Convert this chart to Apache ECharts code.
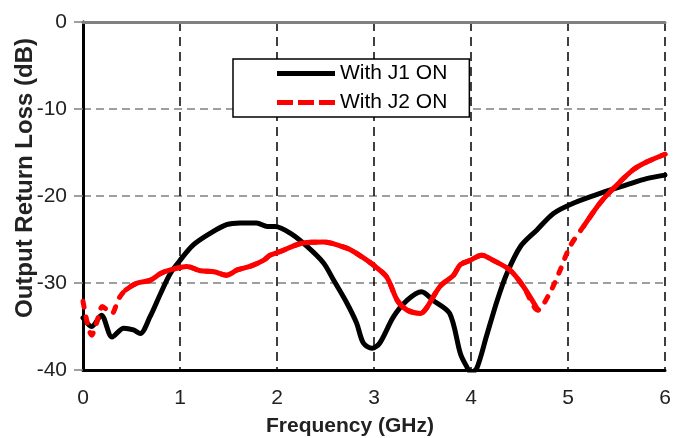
<!DOCTYPE html>
<html><head><meta charset="utf-8">
<script src="https://cdn.jsdelivr.net/npm/echarts@6/dist/echarts.min.js"></script>
<style>html,body{margin:0;padding:0;background:#fff}#c{width:687px;height:438px}</style>
</head><body><div id="c"></div>
<script>
const seriesNames = ['With J1 ON', 'With J2 ON'];
const xTicks = [0, 1, 2, 3, 4, 5, 6];
const yTicks = [-40, -30, -20, -10, 0];
const j1Freq = [0.00,0.09,0.19,0.30,0.42,0.52,0.59,0.69,0.80,0.90,1.00,1.14,1.31,1.48,1.62,1.79,1.90,1.98,2.14,2.31,2.48,2.58,2.72,2.82,2.89,2.98,3.06,3.20,3.34,3.49,3.61,3.78,3.89,3.95,4.00,4.06,4.16,4.27,4.37,4.51,4.68,4.85,5.06,5.33,5.61,5.81,6.00];
const j1Loss = [-34.0,-35.0,-33.7,-36.2,-35.2,-35.4,-35.8,-33.9,-31.2,-28.9,-27.4,-25.6,-24.3,-23.3,-23.1,-23.1,-23.5,-23.5,-24.3,-25.8,-27.7,-29.6,-32.3,-34.6,-36.9,-37.5,-36.9,-33.9,-32.0,-31.0,-32.0,-33.5,-38.1,-39.5,-40.3,-39.8,-36.1,-32.0,-28.9,-25.8,-23.9,-22.0,-20.8,-19.7,-18.7,-18.0,-17.6];
const j2Freq = [0.00,0.09,0.14,0.20,0.25,0.30,0.35,0.38,0.44,0.56,0.69,0.80,0.90,1.07,1.21,1.35,1.48,1.59,1.72,1.86,1.93,2.03,2.27,2.48,2.72,2.82,2.99,3.13,3.24,3.34,3.48,3.54,3.68,3.82,3.89,3.99,4.11,4.23,4.40,4.54,4.69,4.81,4.92,5.02,5.16,5.33,5.47,5.67,5.81,6.00];
const j2Loss = [-32.1,-36.0,-34.6,-32.7,-33.1,-33.5,-32.3,-31.6,-30.8,-30.0,-29.7,-28.9,-28.5,-28.1,-28.6,-28.7,-29.1,-28.5,-28.1,-27.4,-26.8,-26.4,-25.4,-25.3,-26.0,-26.6,-27.9,-29.3,-32.0,-33.1,-33.5,-32.9,-30.4,-29.1,-27.9,-27.4,-26.8,-27.4,-28.5,-30.4,-33.1,-31.2,-28.5,-25.8,-23.5,-20.8,-19.1,-17.0,-16.1,-15.2];

// frequency spans where the dense-point red trace renders as solid
const solidSpans = [[0.40, 3.15], [3.22, 4.72], [5.14, 6.01]];
const inSolid = f => solidSpans.some(s => f >= s[0] && f <= s[1]);

const j1Data = j1Freq.map((f, i) => [f, j1Loss[i]]);
const j2Data = j2Freq.map((f, i) => [f, j2Loss[i]]);
const j2Solid = j2Freq.map((f, i) => inSolid(f) ? [f, j2Loss[i]] : [f, null]);

const font = 'Liberation Sans, Arial, sans-serif';
const chart = echarts.init(document.getElementById('c'), null, {renderer: 'canvas'});
chart.setOption({
  animation: false,
  backgroundColor: '#fff',
  grid: {left: 83, right: 22, top: 22, bottom: 68, containLabel: false, outerBoundsMode: 'none'},
  legend: {
    data: [
      {name: seriesNames[0], icon: 'rect', itemStyle: {color: '#000'}},
      {name: seriesNames[1], icon: 'path://M0,0h16v5h-16z M21,0h16v5h-16z M42,0h16v5h-16z', itemStyle: {color: '#ff0000'}}
    ],
    orient: 'vertical',
    left: 233, top: 59,
    backgroundColor: '#fff',
    borderColor: '#000', borderWidth: 1.5,
    padding: [4, 22, 4, 44],
    itemWidth: 58, itemHeight: 5, itemGap: 8,
    textStyle: {fontFamily: font, fontSize: 21, color: '#000'}
  },
  xAxis: [{
    type: 'value', min: xTicks[0], max: xTicks[xTicks.length - 1], interval: 1,
    name: 'Frequency (GHz)', nameLocation: 'middle', nameGap: 46, nameMoveOverlap: false,
    nameTextStyle: {fontFamily: font, fontSize: 21, fontWeight: 'bold', color: '#222', padding: [0, 48, 0, 0]},
    axisLine: {show: true, onZero: false, lineStyle: {color: '#000', width: 3}},
    axisTick: {show: false},
    axisLabel: {fontFamily: font, fontSize: 21, color: '#222', margin: 18},
    splitLine: {show: true, lineStyle: {color: '#000', width: 1.5, type: [9, 6]}}
  }, {
    type: 'value', position: 'top', min: 0, max: 6,
    axisLine: {show: true, lineStyle: {color: '#808080', width: 3}},
    axisTick: {show: false}, axisLabel: {show: false}, splitLine: {show: false}
  }],
  yAxis: [{
    type: 'value', min: yTicks[0], max: yTicks[yTicks.length - 1], interval: 10,
    name: 'Output Return Loss (dB)', nameLocation: 'middle', nameGap: 46, nameMoveOverlap: false,
    nameTextStyle: {fontFamily: font, fontSize: 24, fontWeight: 'bold', color: '#222', padding: [0, 0, 0, 36]},
    axisLine: {show: true, onZero: false, lineStyle: {color: '#808080', width: 3}},
    axisTick: {show: true, length: 9, lineStyle: {color: '#808080', width: 1.5}},
    axisLabel: {fontFamily: font, fontSize: 21, color: '#222', margin: 16},
    splitLine: {show: true, lineStyle: {color: '#808080', width: 1.5, type: [8, 5]}}
  }, {
    type: 'value', position: 'right', min: -40, max: 0,
    axisLine: {show: true, lineStyle: {color: '#000', width: 3}},
    axisTick: {show: false}, axisLabel: {show: false}, splitLine: {show: false}
  }],
  series: [{
    name: seriesNames[0], type: 'line', data: j1Data, smooth: 0.3,
    showSymbol: false, symbol: 'none', clip: true,
    lineStyle: {color: '#000', width: 5, cap: 'round', join: 'round'},
    itemStyle: {color: '#000'}, z: 3
  }, {
    name: seriesNames[1], type: 'line', data: j2Data, smooth: 0.3,
    showSymbol: false, symbol: 'none', clip: true,
    lineStyle: {color: '#ff0000', width: 5, type: [6, 10], cap: 'round', join: 'round'},
    itemStyle: {color: '#ff0000'}, z: 4
  }, {
    name: 'j2-solid', type: 'line', data: j2Solid, smooth: 0.3, connectNulls: false,
    showSymbol: false, symbol: 'none', clip: true, silent: true,
    lineStyle: {color: '#ff0000', width: 5, cap: 'round', join: 'round'},
    itemStyle: {color: '#ff0000'}, z: 4
  }]
});
</script></body></html>
